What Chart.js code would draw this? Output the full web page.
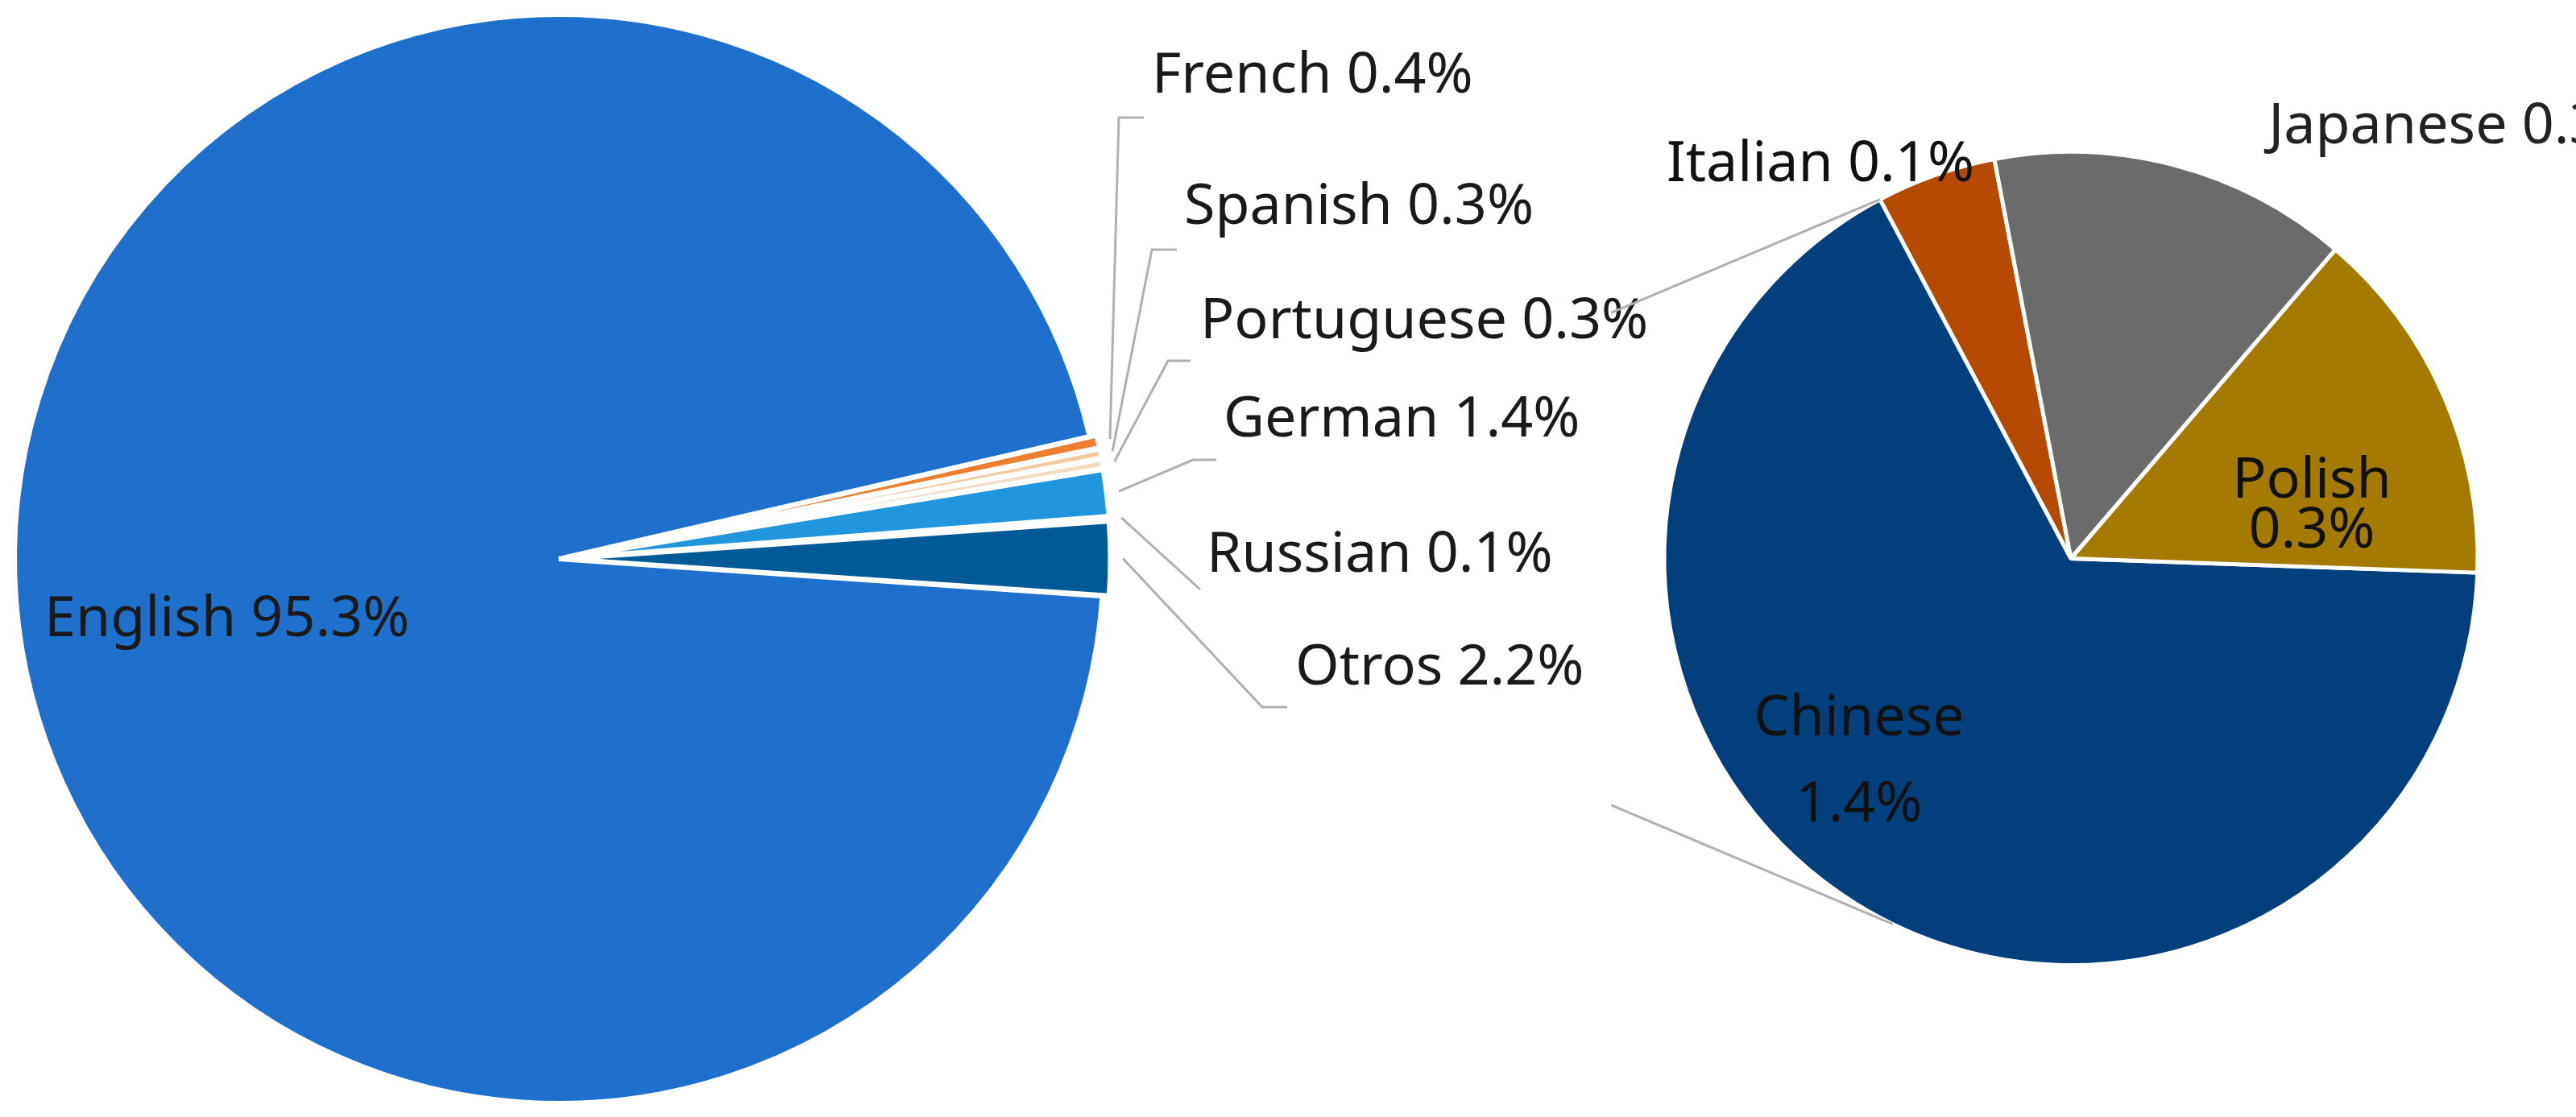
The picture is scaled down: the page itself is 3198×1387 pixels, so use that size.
<!DOCTYPE html>
<html><head><meta charset="utf-8">
<script src="https://cdn.jsdelivr.net/npm/chart.js@4/dist/chart.umd.min.js"></script>
<style>html,body{margin:0;padding:0;background:#fff;overflow:hidden}
#wrap{position:relative;width:3198px;height:1387px}
canvas{position:absolute;top:0}</style></head>
<body><div id="wrap"><canvas id="c1" style="left:0"></canvas><canvas id="c2" style="left:2000px"></canvas></div>
<script>
const mainLabels = ["French","Spanish","Portuguese","German","Russian","Otros","English"];
const mainValues = [0.4,0.3,0.3,1.4,0.1,2.2,95.3];
const mainColors = ["#ed7d31","#f4c9a0","#f3dcc0","#2196dc","#9dc6e8","#005a96","#1f70cc"];
const subLabels = ["Chinese","Italian","Japanese","Polish"];
const subValues = [1.4,0.1,0.3,0.3];
const subColors = ["#023f7c","#b74a02","#6b6b6b","#a47a01"];
const FONT = '70px "Noto Sans", sans-serif';
// label positions for the main pie (layout only)
const mainLabelPos = {
  French:{x:1430,y:95,elbow:[1389,146],end:[1420,146]},
  Spanish:{x:1470,y:258,elbow:[1430,310],end:[1461,310]},
  Portuguese:{x:1490,y:400,elbow:[1450,448],end:[1478,448]},
  German:{x:1519,y:522,elbow:[1481,571],end:[1510,571]},
  Russian:{x:1498,y:690,elbow:null,end:[1490,732]},
  Otros:{x:1608,y:830,elbow:[1567,878],end:[1598,878]}
};
let leftChart=null;
function fmt(v){return v.toFixed(1)+'%';}
const leftPlugin={id:'leftLabels',afterDraw(chart){
  const ctx=chart.ctx; const meta=chart.getDatasetMeta(0);
  ctx.save(); ctx.font=FONT; ctx.fillStyle='#1a1a1a'; ctx.textBaseline='middle';
  ctx.strokeStyle='#b0b0b0'; ctx.lineWidth=3;
  meta.data.forEach((arc,i)=>{
    const name=mainLabels[i]; const val=mainValues[i];
    if(name==='English'){ctx.textAlign='left';ctx.fillText(name+' '+fmt(val),55,770);return;}
    const p=mainLabelPos[name];
    const mid=(arc.startAngle+arc.endAngle)/2;
    const off=arc.options.offset||0;
    const sx=arc.x+Math.cos(mid)*(arc.outerRadius+off+6), sy=arc.y+Math.sin(mid)*(arc.outerRadius+off+6);
    ctx.beginPath(); ctx.moveTo(sx,sy);
    if(p.elbow) ctx.lineTo(p.elbow[0],p.elbow[1]);
    ctx.lineTo(p.end[0],p.end[1]); ctx.stroke();
    ctx.textAlign='left'; ctx.fillText(name+' '+fmt(val),p.x,p.y);
  });
  ctx.restore();
}};
const rightPlugin={id:'rightLabels',afterDraw(chart){
  const ctx=chart.ctx; const meta=chart.getDatasetMeta(0);
  ctx.save(); ctx.font=FONT; ctx.textBaseline='middle'; ctx.textAlign='center';
  const pos={Chinese:[308,[893,1000],'#111'],Italian:[260,[205],'#111'],Japanese:[1052,[158],'#222'],Polish:[870,[598,660],'#111']};
  meta.data.forEach((arc,i)=>{
    const n=subLabels[i]; const p=pos[n];
    if(p[1].length===2){ctx.fillStyle=p[2];ctx.fillText(n,p[0],p[1][0]);ctx.fillText(fmt(subValues[i]),p[0],p[1][1]);}
    else {ctx.fillStyle=p[2];ctx.fillText(n+' '+fmt(subValues[i]),p[0],p[1][0]);}
  });
  // connector lines from Otros slice to the sub pie
  if(leftChart){
    const lm=leftChart.getDatasetMeta(0); const o=lm.data[mainLabels.indexOf('Otros')];
    const mid=(o.startAngle+o.endAngle)/2, off=o.options.offset||0;
    const ox=o.x+Math.cos(mid)*off-2000, oy=o.y+Math.sin(mid)*off;
    const r0=o.outerRadius;
    const a1=[ox+Math.cos(o.startAngle)*r0, oy+Math.sin(o.startAngle)*r0];
    const a2=[ox+Math.cos(o.endAngle)*r0, oy+Math.sin(o.endAngle)*r0];
    const ch=meta.data[0];
    const b1=[ch.x+Math.cos(ch.endAngle)*ch.outerRadius, ch.y+Math.sin(ch.endAngle)*ch.outerRadius];
    const ang=Math.PI*(206-90)/180;
    const b2=[ch.x+Math.cos(ang)*ch.outerRadius, ch.y+Math.sin(ang)*ch.outerRadius];
    ctx.strokeStyle='#b0b0b0'; ctx.lineWidth=3;
    ctx.beginPath(); ctx.moveTo(a1[0],a1[1]); ctx.lineTo(b1[0],b1[1]);
    ctx.moveTo(a2[0],a2[1]); ctx.lineTo(b2[0],b2[1]); ctx.stroke();
  }
  ctx.restore();
}};
Chart.defaults.font.family='"Noto Sans", sans-serif';
const c1=document.getElementById('c1'); c1.width=3198; c1.height=1387; c1.style.width='3198px'; c1.style.height='1387px';
const c2=document.getElementById('c2'); c2.style.width='1198px'; c2.style.height='1387px';
leftChart=new Chart(c1,{type:'pie',data:{labels:mainLabels,datasets:[{data:mainValues,backgroundColor:mainColors,borderColor:'#fff',borderWidth:6,offset:mainLabels.map(l=>l==='English'?0:18)}]},
  options:{responsive:false,animation:false,rotation:77,radius:676,layout:{padding:{left:10,top:10,bottom:9,right:3198-1378}},
    plugins:{legend:{display:false},tooltip:{enabled:false}}},plugins:[leftPlugin]});
new Chart(c2,{type:'pie',data:{labels:subLabels,datasets:[{data:subValues,backgroundColor:subColors,borderColor:'#fff',borderWidth:5}]},
  options:{responsive:false,animation:false,rotation:92,radius:505,layout:{padding:{left:0,right:56,top:0,bottom:0}},
    plugins:{legend:{display:false},tooltip:{enabled:false}}},plugins:[rightPlugin]});
</script></body></html>
